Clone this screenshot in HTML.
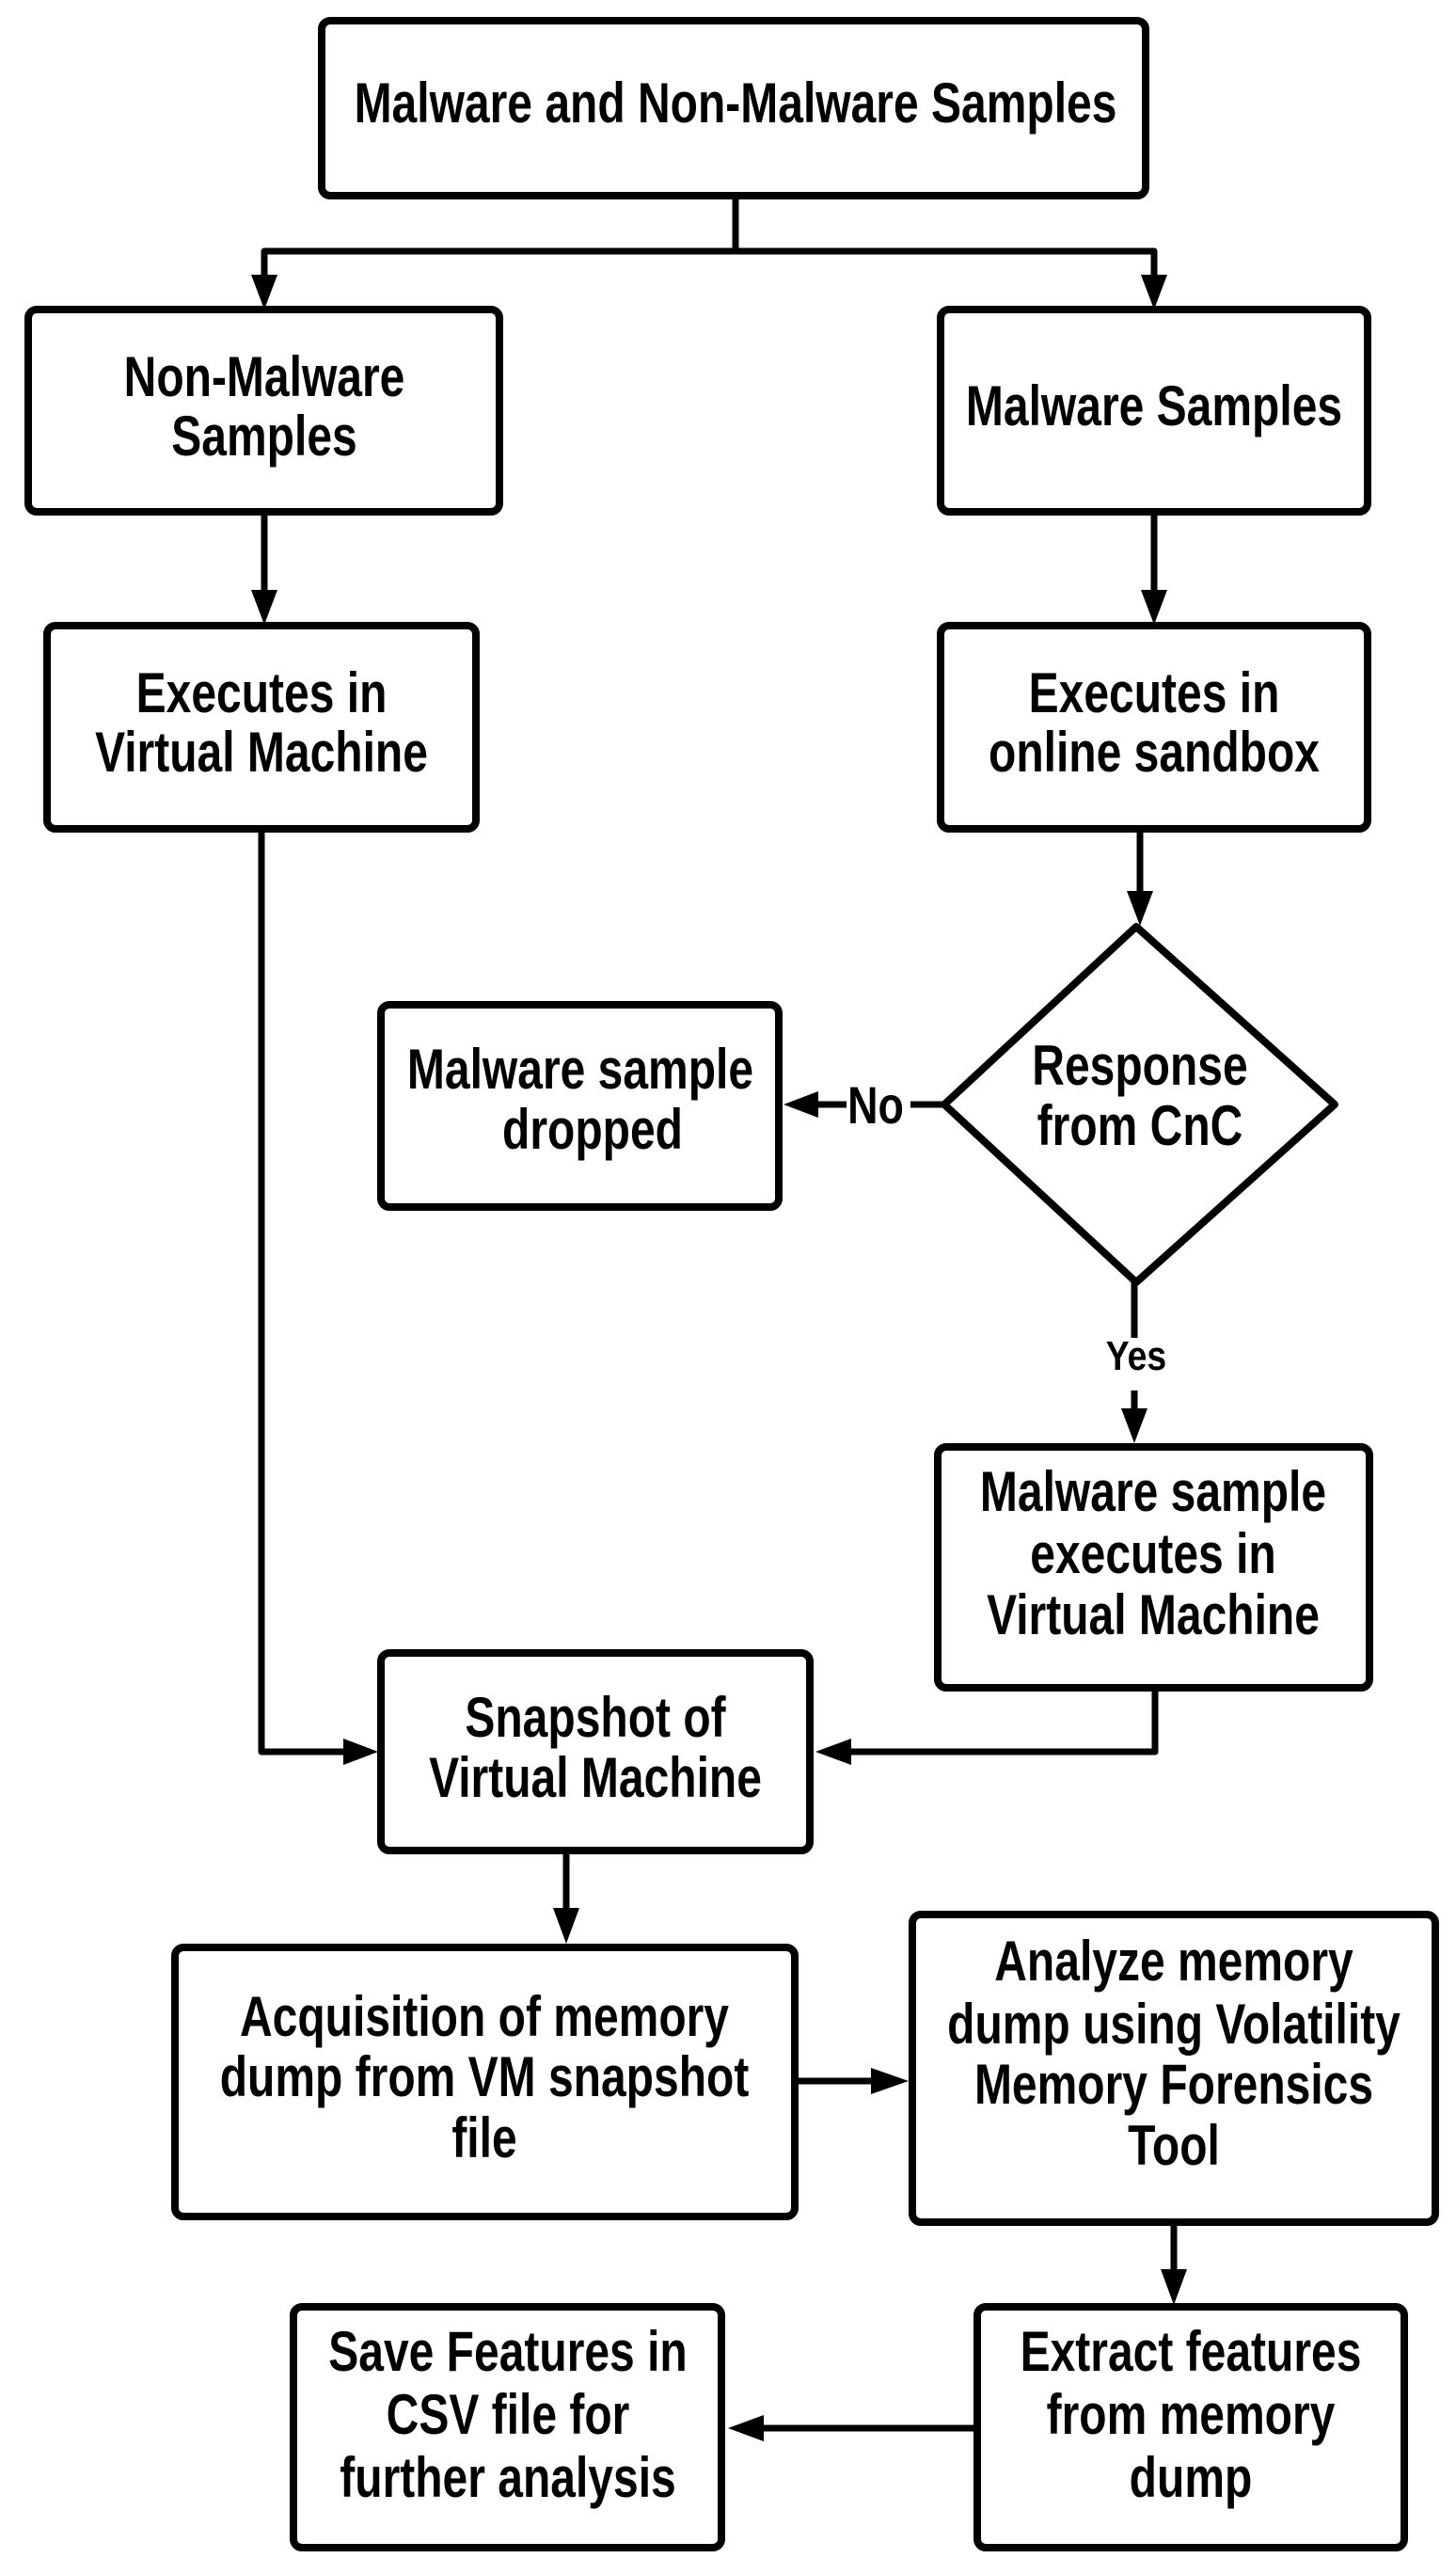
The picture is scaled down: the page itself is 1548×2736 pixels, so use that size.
<!DOCTYPE html>
<html><head><meta charset="utf-8"><style>
html,body{margin:0;padding:0;background:#fff}
svg{display:block}
text{font-family:"Liberation Sans",Arial,sans-serif;font-weight:bold;font-size:60px;fill:#000}
</style></head><body>
<svg width="1548" height="2736" viewBox="0 0 1548 2736" xmlns="http://www.w3.org/2000/svg">
<g fill="none" stroke="#000" stroke-width="8" stroke-linejoin="round">
<rect x="342" y="22" width="876" height="186" rx="9"/>
<rect x="30" y="329" width="501" height="215" rx="9"/>
<rect x="1000" y="329" width="454" height="215" rx="9"/>
<rect x="50" y="665" width="456" height="216" rx="9"/>
<rect x="1000" y="665" width="454" height="216" rx="9"/>
<polygon points="1208,985 1419,1174 1208,1363 1004,1174"/>
<rect x="405" y="1068" width="423" height="215" rx="9"/>
<rect x="997" y="1538" width="459" height="256" rx="9"/>
<rect x="405" y="1757" width="456" height="210" rx="9"/>
<rect x="186" y="2070" width="659" height="286" rx="9"/>
<rect x="970" y="2035" width="556" height="327" rx="9"/>
<rect x="1039" y="2452" width="454" height="256" rx="9"/>
<rect x="312" y="2452" width="455" height="256" rx="9"/>
</g>
<g fill="none" stroke="#000" stroke-width="7" stroke-linejoin="round">
<path d="M782 208 V267 H281 V295"/>
<path d="M782 267 H1227 V295"/>
<path d="M281 544 V630"/>
<path d="M1227 544 V630"/>
<path d="M1212 881 V950"/>
<path d="M1004 1174 H968"/>
<path d="M900 1174 H868"/>
<path d="M1206 1363 V1422"/>
<path d="M1206 1478 V1500"/>
<path d="M278 881 V1862 H368"/>
<path d="M1228 1794 V1862 H902"/>
<path d="M602 1967 V2030"/>
<path d="M845 2212 H928"/>
<path d="M1248 2362 V2415"/>
<path d="M1039 2581 H810"/>
</g>
<g fill="#000">
<polygon points="267,292 295,292 281,329"/>
<polygon points="1213,292 1241,292 1227,329"/>
<polygon points="267,627 295,627 281,664"/>
<polygon points="1213,627 1241,627 1227,664"/>
<polygon points="1198,947 1226,947 1212,984"/>
<polygon points="870,1160 870,1188 833,1174"/>
<polygon points="1192,1497 1220,1497 1206,1534"/>
<polygon points="365,1848 365,1876 402,1862"/>
<polygon points="905,1848 905,1876 867,1862"/>
<polygon points="588,2028 616,2028 602,2066"/>
<polygon points="926,2198 926,2226 966,2212"/>
<polygon points="1234,2412 1262,2412 1248,2450"/>
<polygon points="812,2567 812,2595 774,2581"/>
</g>
<g text-anchor="middle">
<text transform="translate(782 130) scale(0.8 1)">Malware and Non-Malware Samples</text>
<text transform="translate(281 421) scale(0.8 1)">Non-Malware</text>
<text transform="translate(281 484) scale(0.8 1)">Samples</text>
<text transform="translate(1227 452) scale(0.8 1)">Malware Samples</text>
<text transform="translate(278 757) scale(0.8 1)">Executes in</text>
<text transform="translate(278 820) scale(0.8 1)">Virtual Machine</text>
<text transform="translate(1227 757) scale(0.8 1)">Executes in</text>
<text transform="translate(1227 820) scale(0.8 1)">online sandbox</text>
<text transform="translate(1212 1153) scale(0.8 1)">Response</text>
<text transform="translate(1212 1217) scale(0.8 1)">from CnC</text>
<text transform="translate(617 1157) scale(0.8 1)">Malware sample</text>
<text transform="translate(630 1221) scale(0.8 1)">dropped</text>
<text transform="translate(931 1194) scale(0.8 1)" style="font-size:56px">No</text>
<text transform="translate(1208 1456) scale(0.85 1)" style="font-size:44px">Yes</text>
<text transform="translate(1226 1606) scale(0.8 1)">Malware sample</text>
<text transform="translate(1226 1672) scale(0.8 1)">executes in</text>
<text transform="translate(1226 1737) scale(0.8 1)">Virtual Machine</text>
<text transform="translate(633 1846) scale(0.8 1)">Snapshot of</text>
<text transform="translate(633 1910) scale(0.8 1)">Virtual Machine</text>
<text transform="translate(515 2164) scale(0.8 1)">Acquisition of memory</text>
<text transform="translate(515 2228) scale(0.8 1)">dump from VM snapshot</text>
<text transform="translate(515 2293) scale(0.8 1)">file</text>
<text transform="translate(1248 2105) scale(0.8 1)">Analyze memory</text>
<text transform="translate(1248 2172) scale(0.8 1)">dump using Volatility</text>
<text transform="translate(1248 2236) scale(0.8 1)">Memory  Forensics</text>
<text transform="translate(1248 2301) scale(0.8 1)">Tool</text>
<text transform="translate(1266 2520) scale(0.8 1)">Extract features</text>
<text transform="translate(1266 2587) scale(0.8 1)">from memory</text>
<text transform="translate(1266 2654) scale(0.8 1)">dump</text>
<text transform="translate(540 2520) scale(0.8 1)">Save Features in</text>
<text transform="translate(540 2587) scale(0.8 1)">CSV file for</text>
<text transform="translate(540 2654) scale(0.8 1)">further analysis</text>
</g>
</svg>
</body></html>
